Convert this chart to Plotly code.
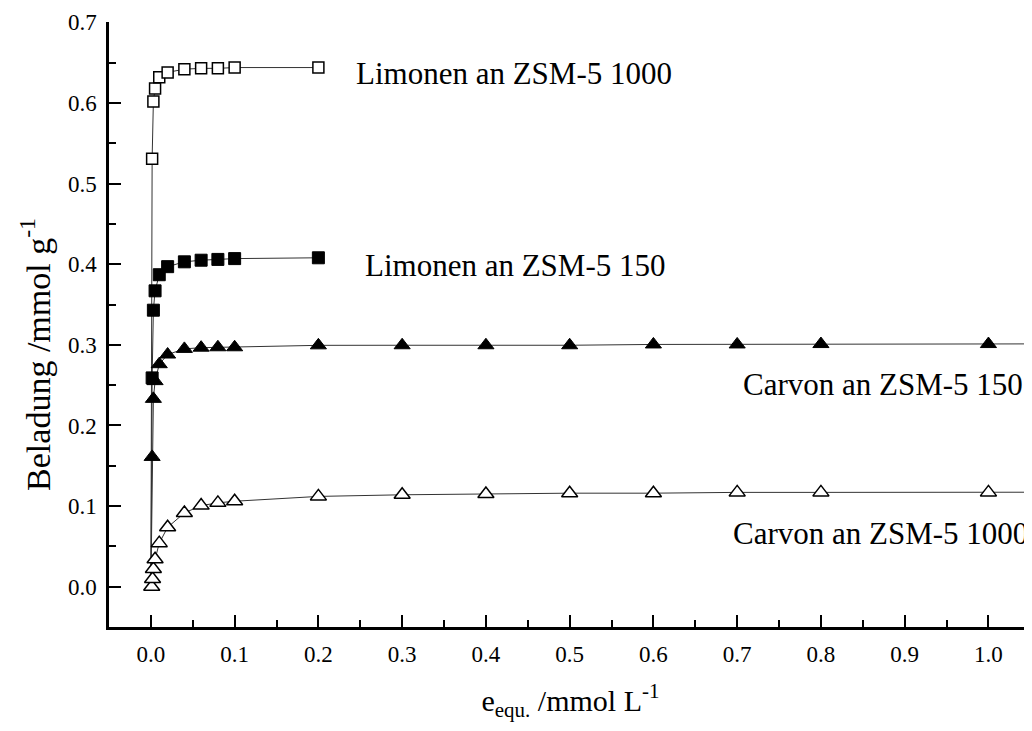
import plotly.graph_objects as go

# ---- data ----
lim1000_x = [0.0015, 0.003, 0.005, 0.01, 0.02, 0.04, 0.06, 0.08, 0.1, 0.2]
lim1000_y = [0.531, 0.602, 0.618, 0.632, 0.638, 0.642, 0.643, 0.643, 0.644, 0.644]

lim150_x = [0.0015, 0.003, 0.005, 0.01, 0.02, 0.04, 0.06, 0.08, 0.1, 0.2]
lim150_y = [0.259, 0.343, 0.367, 0.387, 0.397, 0.403, 0.405, 0.406, 0.407, 0.408]

carv150_x = [0.0015, 0.003, 0.005, 0.01, 0.02, 0.04, 0.06, 0.08, 0.1, 0.2,
             0.3, 0.4, 0.5, 0.6, 0.7, 0.8, 1.0]
carv150_y = [0.161, 0.233, 0.255, 0.276, 0.288, 0.295, 0.2965, 0.297, 0.297, 0.2994,
             0.2995, 0.2995, 0.2995, 0.3005, 0.3005, 0.301, 0.301]

carv1000_x = [0.001, 0.002, 0.003, 0.005, 0.01, 0.02, 0.04, 0.06, 0.08, 0.1, 0.2,
              0.3, 0.4, 0.5, 0.6, 0.7, 0.8, 1.0]
carv1000_y = [0.0, 0.0096, 0.022, 0.034, 0.054, 0.0737, 0.0915, 0.1006, 0.104, 0.106, 0.112,
              0.114, 0.115, 0.116, 0.116, 0.117, 0.117, 0.117]

# curve start (origin) and end points of the drawn curves
curve_start = (0.0, 0.0)
carv150_end = (1.052, 0.3012)
carv1000_end = (1.052, 0.1172)

labels = ["Limonen an ZSM-5 1000", "Limonen an ZSM-5 150",
          "Carvon an ZSM-5 150", "Carvon an ZSM-5 1000"]
label_x = [0.243, 0.253, 1.044, 1.050]
label_y = [0.637, 0.398, 0.251, 0.066]
label_anchor = ["left", "left", "right", "right"]

x_ticks = [0.0, 0.1, 0.2, 0.3, 0.4, 0.5, 0.6, 0.7, 0.8, 0.9, 1.0]
y_ticks = [0.0, 0.1, 0.2, 0.3, 0.4, 0.5, 0.6, 0.7]

x_title = "e<sub>equ.</sub> /mmol L<sup>-1</sup>"
y_title = "Beladung /mmol g<sup>-1</sup>"

FONT = "Liberation Serif, Times New Roman, serif"
LINE = dict(color="#333333", width=1)

fig = go.Figure()

# curves
fig.add_trace(go.Scatter(x=[curve_start[0]] + lim1000_x, y=[curve_start[1]] + lim1000_y,
                         mode="lines", line=LINE, hoverinfo="skip"))
fig.add_trace(go.Scatter(x=[curve_start[0]] + lim150_x, y=[curve_start[1]] + lim150_y,
                         mode="lines", line=LINE, hoverinfo="skip"))
fig.add_trace(go.Scatter(x=[curve_start[0]] + carv150_x + [carv150_end[0]],
                         y=[curve_start[1]] + carv150_y + [carv150_end[1]],
                         mode="lines", line=LINE, hoverinfo="skip"))
fig.add_trace(go.Scatter(x=[curve_start[0]] + carv1000_x + [carv1000_end[0]],
                         y=[curve_start[1]] + carv1000_y + [carv1000_end[1]],
                         mode="lines", line=LINE, hoverinfo="skip"))

# markers
fig.add_trace(go.Scatter(x=carv1000_x, y=carv1000_y, mode="markers",
                         marker=dict(symbol="triangle-up", size=14, color="white",
                                     line=dict(color="black", width=1.5))))
fig.add_trace(go.Scatter(x=carv150_x, y=carv150_y, mode="markers",
                         marker=dict(symbol="triangle-up", size=14, color="black",
                                     line=dict(color="black", width=1))))
fig.add_trace(go.Scatter(x=lim150_x, y=lim150_y, mode="markers",
                         marker=dict(symbol="square", size=12, color="black",
                                     line=dict(color="black", width=1))))
fig.add_trace(go.Scatter(x=lim1000_x, y=lim1000_y, mode="markers",
                         marker=dict(symbol="square", size=11, color="white",
                                     line=dict(color="black", width=1.5))))

for t, xx, yy, a in zip(labels, label_x, label_y, label_anchor):
    fig.add_annotation(x=xx, y=yy, xref="x", yref="y", text=t, showarrow=False,
                       xanchor=a, yanchor="middle",
                       font=dict(family=FONT, size=31, color="black"))

# y-axis title as a rotated annotation (placed a little below the plot centre)
fig.add_annotation(x=-0.080, y=0.45, xref="paper", yref="paper", text=y_title,
                   showarrow=False, textangle=-90, xanchor="center", yanchor="middle",
                   font=dict(family=FONT, size=34, color="black"))

# the page body has an 8px margin, so the figure is drawn 8px in from the
# top-left corner; size and margins below account for that offset
fig.update_layout(
    width=1024, height=723,
    margin=dict(l=101, r=0, t=14, b=104),
    paper_bgcolor="white", plot_bgcolor="white",
    showlegend=False,
    font=dict(family=FONT, color="black"),
)
fig.update_xaxes(
    range=[-0.05, 1.052], tickvals=x_ticks, ticktext=[f"{v:.1f}" for v in x_ticks],
    ticks="inside", ticklen=12, tickwidth=2, tickcolor="black",
    minor=dict(dtick=0.05, tick0=0.0, ticks="inside", ticklen=7, tickwidth=2, tickcolor="black"),
    showline=True, linewidth=2.5, linecolor="black", showgrid=False, zeroline=False,
    tickfont=dict(family=FONT, size=23, color="black"), ticklabelstandoff=5,
    title=dict(text=x_title, font=dict(family=FONT, size=30, color="black"), standoff=24),
)
fig.update_yaxes(
    range=[-0.05, 0.7005], tickvals=y_ticks, ticktext=[f"{v:.1f}" for v in y_ticks],
    ticks="inside", ticklen=12, tickwidth=2, tickcolor="black",
    minor=dict(dtick=0.05, tick0=0.0, ticks="inside", ticklen=7, tickwidth=2, tickcolor="black"),
    showline=True, linewidth=2.5, linecolor="black", showgrid=False, zeroline=False,
    tickfont=dict(family=FONT, size=23, color="black"), ticklabelstandoff=5,
)

fig.write_html("out.html")
